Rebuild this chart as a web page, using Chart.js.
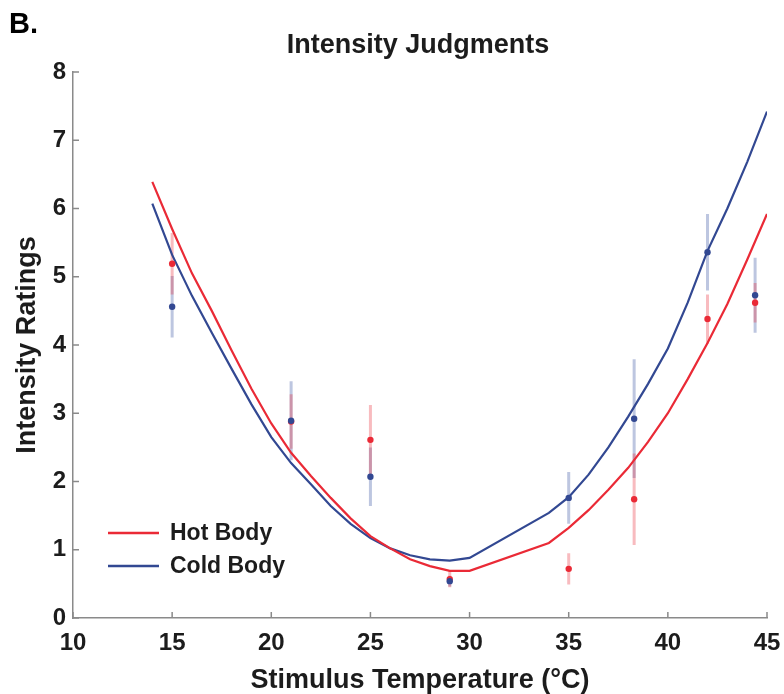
<!DOCTYPE html>
<html>
<head>
<meta charset="utf-8">
<script src="https://cdn.jsdelivr.net/npm/chart.js@4.4.1/dist/chart.umd.min.js"></script>
<style>
  html, body { margin: 0; padding: 0; background: #fff; }
  #wrap { width: 784px; height: 694px; }
</style>
</head>
<body>
<div id="wrap"><canvas id="chart" width="784" height="694"></canvas></div>
<script>
// MODEL CURVES //
var fitTemps = [14, 15, 16, 17, 18, 19, 20, 21, 22, 23, 24, 25, 26, 27, 28, 29, 30,
                34, 35, 36, 37, 38, 39, 40, 41, 42, 43, 44, 45];
var hotFit  = [6.39, 5.70, 5.05, 4.50, 3.92, 3.36, 2.85, 2.42, 2.08, 1.76, 1.46, 1.20, 1.02, 0.86, 0.76, 0.69, 0.69,
               1.10, 1.32, 1.58, 1.88, 2.20, 2.58, 3.00, 3.50, 4.03, 4.60, 5.25, 5.92];
var coldFit = [6.07, 5.32, 4.72, 4.18, 3.65, 3.13, 2.65, 2.27, 1.96, 1.64, 1.38, 1.17, 1.02, 0.92, 0.86, 0.84, 0.88,
               1.54, 1.77, 2.10, 2.50, 2.95, 3.43, 3.95, 4.62, 5.38, 6.00, 6.68, 7.42];

// OBSERVED RATINGS //
var obsTemps = [15, 21, 25, 29, 35, 38.3, 42, 44.4];
var hotMean  = [5.19, 2.88, 2.61, 0.57, 0.72, 1.74, 4.38, 4.62];
var hotErr   = [0.45, 0.40, 0.51, 0.12, 0.23, 0.67, 0.36, 0.29];
var coldMean = [4.56, 2.89, 2.07, 0.54, 1.76, 2.92, 5.36, 4.73];
var coldErr  = [0.45, 0.58, 0.43, 0.08, 0.38, 0.87, 0.56, 0.55];

var seriesNames = ["Hot Body", "Cold Body"];
var xTicks = [10, 15, 20, 25, 30, 35, 40, 45];
var yTicks = [0, 1, 2, 3, 4, 5, 6, 7, 8];

var chartTitle = "Intensity Judgments";
var panelLabel = "B.";
var xTitle = "Stimulus Temperature (\u00B0C)";
var yTitle = "Intensity Ratings";

var RED = "rgb(234, 42, 54)";
var BLUE = "rgb(50, 72, 146)";
var FONT = "'Liberation Sans', Arial, Helvetica, sans-serif";
var TEXT = "#1c1c1c";

// HELPERS //
var toPoints = (xs, ys) => xs.map((x, i) => ({x: x, y: ys[i]}));
var toBars = (xs, ys, es) => {
    var pts = [];
    for (var i = 0; i < xs.length; i++) {
        pts.push({x: xs[i], y: ys[i] - es[i]});
        pts.push({x: xs[i], y: ys[i] + es[i]});
        pts.push({x: xs[i], y: null});
    }
    return pts;
};

// INWARD TICKS, TITLE, LEGEND //
var decorPlugin = {
    id: "decor",
    afterDraw: function(chart) {
        var ctx = chart.ctx;
        var area = chart.chartArea;
        var xs = chart.scales.x, ys = chart.scales.y;
        ctx.save();
        ctx.strokeStyle = "#8a8a8a";
        ctx.lineWidth = 1.5;
        ctx.beginPath();
        xTicks.forEach(function(v) {
            var px = xs.getPixelForValue(v);
            ctx.moveTo(px, area.bottom);
            ctx.lineTo(px, area.bottom - 6);
        });
        yTicks.forEach(function(v) {
            var py = ys.getPixelForValue(v);
            ctx.moveTo(area.left, py);
            ctx.lineTo(area.left + 6, py);
        });
        ctx.stroke();

        ctx.fillStyle = "#000";
        ctx.font = "bold 29px " + FONT;
        ctx.textAlign = "left";
        ctx.textBaseline = "middle";
        ctx.fillText(panelLabel, 9, 25);

        ctx.fillStyle = TEXT;
        ctx.font = "bold 27px " + FONT;
        ctx.textAlign = "center";
        ctx.fillText(chartTitle, (area.left + area.right) / 2 - 2, 46);

        // legend //
        var colors = [RED, BLUE];
        ctx.font = "bold 23px " + FONT;
        ctx.textAlign = "left";
        for (var i = 0; i < seriesNames.length; i++) {
            var ly = area.top + 461 + i * 33;
            ctx.strokeStyle = colors[i];
            ctx.lineWidth = 2.5;
            ctx.beginPath();
            ctx.moveTo(area.left + 35, ly);
            ctx.lineTo(area.left + 86, ly);
            ctx.stroke();
            ctx.fillStyle = TEXT;
            ctx.fillText(seriesNames[i], area.left + 97, ly + 1);
        }
        ctx.restore();
    }
};

var ctx = document.getElementById("chart");
var chart = new Chart(ctx, {
    type: "scatter",
    data: {
        datasets: [
            {label: seriesNames[1] + " mean", data: toPoints(obsTemps, coldMean), showLine: false,
             pointRadius: 3.2, pointBackgroundColor: BLUE, pointBorderWidth: 0, order: 0},
            {label: seriesNames[0] + " mean", data: toPoints(obsTemps, hotMean), showLine: false,
             pointRadius: 3.2, pointBackgroundColor: RED, pointBorderWidth: 0, order: 0},
            {label: seriesNames[0], data: toPoints(fitTemps, hotFit), showLine: true, borderColor: RED,
             borderWidth: 2.2, pointRadius: 0, tension: 0, order: 1},
            {label: seriesNames[1], data: toPoints(fitTemps, coldFit), showLine: true, borderColor: BLUE,
             borderWidth: 2.2, pointRadius: 0, tension: 0, order: 1},
            {label: seriesNames[0] + " error", data: toBars(obsTemps, hotMean, hotErr), showLine: true,
             spanGaps: false, borderColor: "rgba(234, 44, 56, 0.32)", borderWidth: 3, pointRadius: 0, order: 2},
            {label: seriesNames[1] + " error", data: toBars(obsTemps, coldMean, coldErr), showLine: true,
             spanGaps: false, borderColor: "rgba(50, 78, 158, 0.32)", borderWidth: 3, pointRadius: 0, order: 2}
        ]
    },
    options: {
        responsive: false,
        animation: false,
        events: [],
        layout: { padding: {top: 72, right: 17, left: 0, bottom: 0} },
        plugins: {
            legend: { display: false },
            tooltip: { enabled: false },
            title: { display: false }
        },
        scales: {
            x: {
                type: "linear", min: 10, max: 45,
                afterFit: function(s) { s.height = 76; s.paddingLeft = 0; s.paddingRight = 0; },
                afterBuildTicks: function(s) { s.ticks = xTicks.map(v => ({value: v})); },
                grid: { display: false, drawTicks: false },
                border: { display: true, color: "#8a8a8a", width: 1.5 },
                ticks: { color: TEXT, padding: 11, font: { family: FONT, size: 24, weight: "bold" } },
                title: { display: true, text: xTitle, color: TEXT, padding: 0,
                         font: { family: FONT, size: 27, weight: "bold", lineHeight: 1 } }
            },
            y: {
                type: "linear", min: 0, max: 8,
                afterFit: function(s) { s.width = 73; s.paddingTop = 0; s.paddingBottom = 0; },
                afterBuildTicks: function(s) { s.ticks = yTicks.map(v => ({value: v})); },
                grid: { display: false, drawTicks: false },
                border: { display: true, color: "#8a8a8a", width: 1.5 },
                ticks: { color: TEXT, padding: 7, font: { family: FONT, size: 24, weight: "bold" } },
                title: { display: true, text: yTitle, color: TEXT, padding: {top: 14, bottom: 0},
                         font: { family: FONT, size: 27, weight: "bold", lineHeight: 1 } }
            }
        }
    },
    plugins: [decorPlugin]
});
</script>
</body>
</html>
